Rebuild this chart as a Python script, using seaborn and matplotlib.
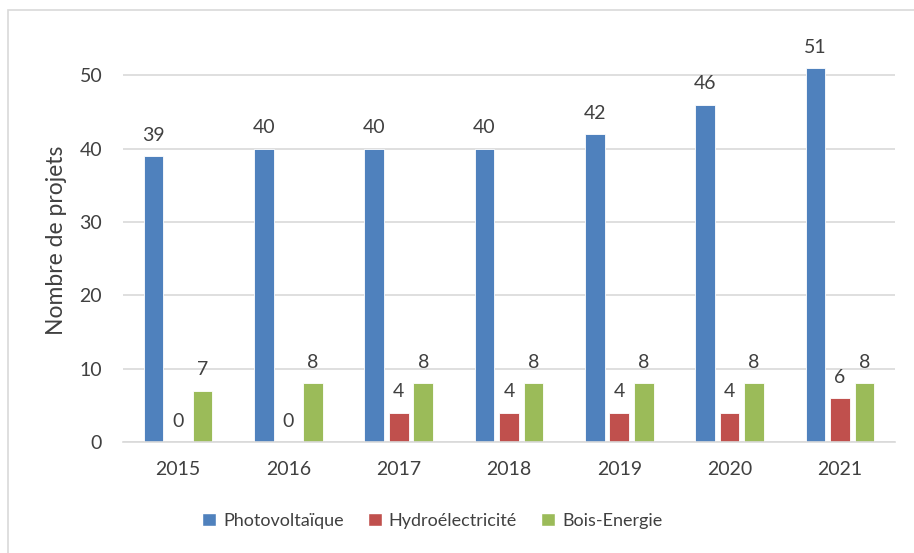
import matplotlib
matplotlib.use("Agg")
import matplotlib.pyplot as plt
import matplotlib.patches as mpatches
import seaborn as sns
import pandas as pd

years = ["2015", "2016", "2017", "2018", "2019", "2020", "2021"]
series_names = ["Photovoltaïque", "Hydroélectricité", "Bois-Energie"]
photovoltaique = [39, 40, 40, 40, 42, 46, 51]
hydroelectricite = [0, 0, 4, 4, 4, 4, 6]
bois_energie = [7, 8, 8, 8, 8, 8, 8]
colors = ["#4f81bd", "#c0504d", "#9bbb59"]
y_ticks = [0, 10, 20, 30, 40, 50]

rows = []
for name, values in zip(series_names, [photovoltaique, hydroelectricite, bois_energie]):
    for yr, v in zip(years, values):
        rows.append({"Année": yr, "Filière": name, "Projets": v})
df = pd.DataFrame(rows)

sns.set_theme(style="white")
plt.rcParams["font.family"] = ["Lato", "DejaVu Sans"]
text_color = "#404040"

fig = plt.figure(figsize=(9.14, 5.53), dpi=100)
ax = fig.add_axes([0.1346, 0.2007, 0.9792 - 0.1346, 0.93 - 0.2007])

sns.barplot(data=df, x="Année", y="Projets", hue="Filière", hue_order=series_names,
            palette=colors, width=0.666, gap=0.2, saturation=1, ax=ax,
            edgecolor="white", linewidth=0.6, legend=False)

ax.set_ylim(0, 55)
ax.set_yticks(y_ticks)
ax.yaxis.grid(True, color="#d9d9d9", linewidth=1.2)
ax.set_axisbelow(True)
for s in ["top", "right", "left"]:
    ax.spines[s].set_visible(False)
ax.spines["bottom"].set_color("#d9d9d9")
ax.spines["bottom"].set_linewidth(1.2)
ax.tick_params(axis="both", length=0, labelsize=14, colors=text_color)
ax.tick_params(axis="x", pad=14)
ax.tick_params(axis="y", pad=15)
ax.set_xlabel("")
ax.set_ylabel("Nombre de projets", fontsize=16.5, color=text_color, labelpad=9)

for container in ax.containers:
    ax.bar_label(container, fmt="%d", padding=9, fontsize=14, color=text_color, clip_on=False)

handles = [mpatches.Rectangle((0, 0), 1, 1, facecolor=c) for c in colors]
fig.legend(handles, series_names, loc="center", bbox_to_anchor=(0.473, 0.058), ncol=3,
           frameon=False, fontsize=13, handlelength=0.75, handleheight=0.75,
           handletextpad=0.4, columnspacing=1.35, labelcolor=text_color)

border = mpatches.Rectangle((8 / 914, -0.05), 1.1, 1 - 10 / 553 + 0.05,
                            transform=fig.transFigure, fill=False,
                            edgecolor="#d9d9d9", linewidth=1.2)
fig.patches.append(border)

fig.savefig("out.png", dpi=100)
